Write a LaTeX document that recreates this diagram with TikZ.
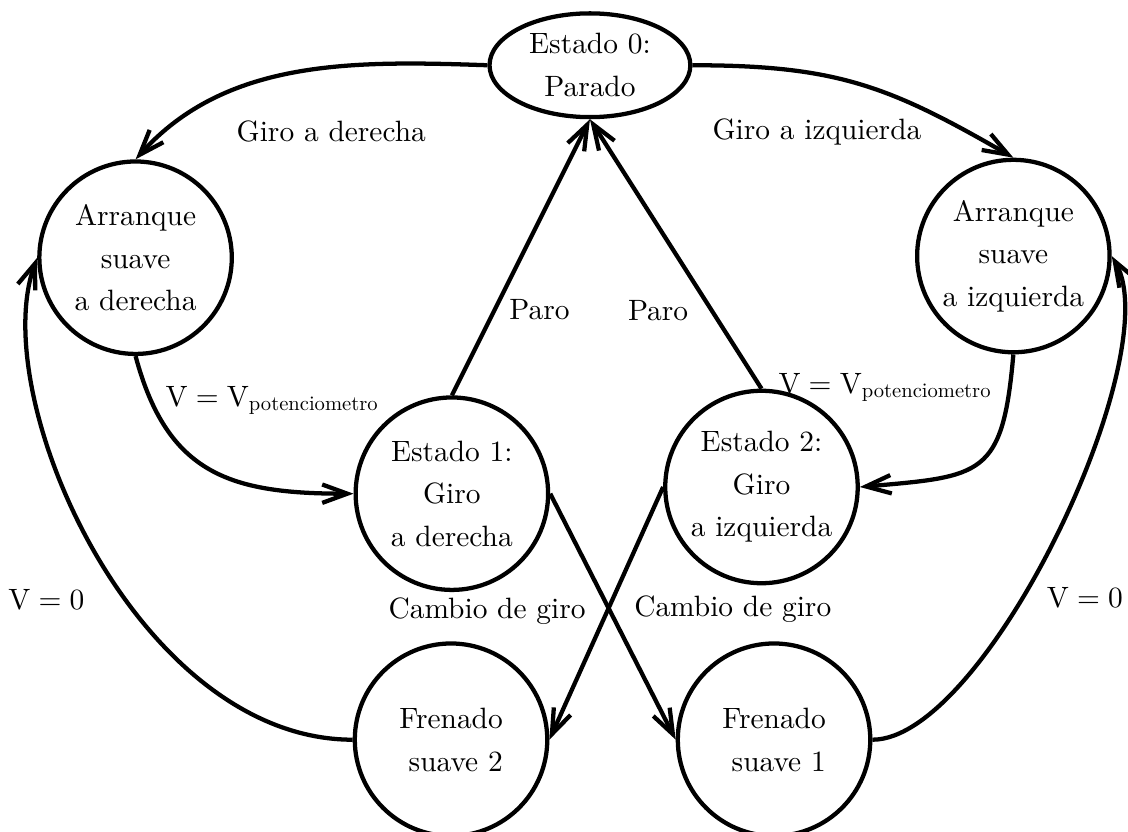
\documentclass[tikz,border=0pt]{standalone}
\usepackage{tikz}
\usetikzlibrary{positioning, shapes.geometric, arrows.meta}

\begin{document}
\begin{tikzpicture}[
  estado/.style={draw, circle, line width=1.45pt, minimum size=2.3cm, inner sep=0pt, align=center, font=\fontsize{10pt}{14.5pt}\selectfont},
  reposo/.style={draw, ellipse, line width=1.45pt, minimum width=2.4cm, minimum height=1.24cm, inner sep=0pt, align=center, font=\fontsize{10pt}{14.5pt}\selectfont},
  arr/.style={-{Straight Barb[length=3mm, width=2.2mm]}, line width=1.45pt},
  lbl/.style={inner sep=3.3pt}
]
\useasboundingbox (0,0) rectangle (13.48,9.94);

% ── Estado 0 ──
\node[reposo] (e0) at (7.05, 9.16) {Estado 0:\\Parado};

% ── Arranques ──
\node[estado] (ader) at (1.62, 6.86) {Arranque\\suave\\a derecha};
\node[estado] (aizq) at (12.11, 6.88) {Arranque\\suave\\a izquierda};

% ── Estados de giro ──
\node[estado] (e1) at (5.40, 4.04) {Estado 1:\\Giro\\a derecha};
\node[estado] (e2) at (9.10, 4.12) {Estado 2:\\Giro\\a izquierda};

% ── Frenados ──
\node[estado, align=right] (fren2) at (5.39, 1.10) {Frenado\\suave 2};
\node[estado, align=right] (fren1) at (9.25, 1.10) {Frenado\\suave 1};

% ═══ TRANSICIONES ═══
% Parado -> arranques
\draw[arr] (e0.west) to[out=178, in=48, looseness=0.95] node[lbl, pos=0.4, below=14pt] {Giro a derecha} (ader.north);
\draw[arr] (e0.east) to[out=0, in=150, looseness=1.1] node[lbl, pos=0.35, below=11pt] {Giro a izquierda} (aizq.north);

% arranques -> giro
\draw[arr] (ader.south) to[out=-75, in=180, looseness=1.22] node[lbl, pos=0.14, right=1pt] {$\mathrm{V}=\mathrm{V}_{\scalebox{.7}{potenciometro}}$} (e1.west);
\draw[arr] (aizq.south) to[out=-95, in=5, looseness=1.55] node[lbl, pos=0.1, left=2pt] {$\mathrm{V}=\mathrm{V}_{\scalebox{.7}{potenciometro}}$} (e2.east);

% giro -> parado
\draw[arr] (e1.north) -- node[lbl, pos=0.31, right=1pt] {Paro} (e0.south);
\draw[arr] (e2.north) -- node[lbl, pos=0.29, left=4pt] {Paro} (e0.south);

% cambio de giro
\draw[arr] (e1.east) -- node[lbl, pos=0.47, right=4.5pt] {Cambio de giro} (fren1.west);
\draw[arr] (e2.west) -- node[lbl, pos=0.49, left=3.4pt] {Cambio de giro} (fren2.east);

% frenados -> arranques
\draw[arr] (fren2.west) to[out=180, in=-110, out distance=2.57cm, in distance=1.79cm] node[lbl, pos=0.42, left=10pt] {$\mathrm{V}=0$} (ader.west);
\draw[arr] (fren1.east) to[out=0, in=-60, looseness=0.54] node[lbl, pos=0.4, right=4.4pt] {$\mathrm{V}=0$} (aizq.east);

\end{tikzpicture}
\end{document}
